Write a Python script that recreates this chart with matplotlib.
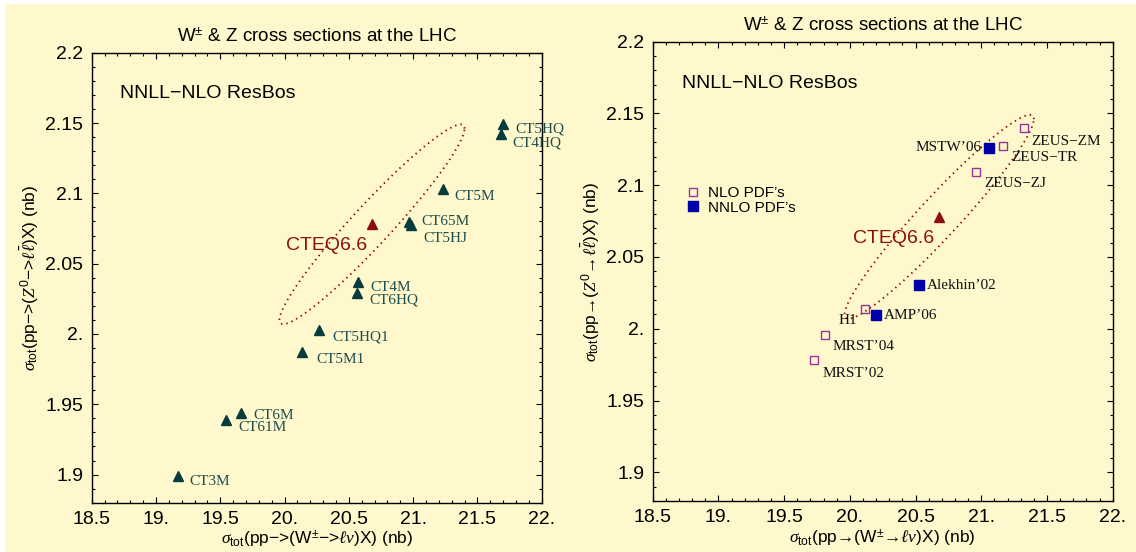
import numpy as np
import matplotlib
matplotlib.use("Agg")
import matplotlib.pyplot as plt
from matplotlib.patches import Rectangle
from matplotlib.ticker import FixedLocator, MultipleLocator

plt.rcParams['font.family'] = ['Liberation Sans', 'DejaVu Sans']
plt.rcParams['mathtext.fontset'] = 'custom'
plt.rcParams['mathtext.rm'] = 'Liberation Sans'
plt.rcParams['mathtext.it'] = 'Liberation Serif:italic'
plt.rcParams['mathtext.bf'] = 'Liberation Sans:bold'
plt.rcParams['mathtext.sf'] = 'Liberation Sans'
plt.rcParams['mathtext.fallback'] = 'stix'

# --- data (W and Z total cross sections, nb) ---
ct_names = ['CT5HQ', 'CT4HQ', 'CT5M', 'CT65M', 'CT5HJ', 'CT4M', 'CT6HQ',
            'CT5HQ1', 'CT5M1', 'CT6M', 'CT61M', 'CT3M']
ct_w = [21.70, 21.68, 21.23, 20.97, 20.985, 20.57, 20.56, 20.27, 20.135, 19.665, 19.545, 19.17]
ct_z = [2.1495, 2.1425, 2.103, 2.0795, 2.0775, 2.037, 2.029, 2.003, 1.9875, 1.9435, 1.9385, 1.899]

nlo_names = ['ZEUS\u2212ZM', 'ZEUS\u2212TR', 'ZEUS\u2212ZJ', 'H1', 'MRST\u201904', 'MRST\u201902']
nlo_w = [21.326, 21.168, 20.96, 20.118, 19.814, 19.728]
nlo_z = [2.1397, 2.1276, 2.1095, 2.014, 1.996, 1.978]

nnlo_names = ['MSTW\u201906', 'Alekhin\u201902', 'AMP\u201906']
nnlo_w = [21.059, 20.527, 20.197]
nnlo_z = [2.1262, 2.0302, 2.0093]

cteq66_w = 20.68
cteq66_z = 2.078
# uncertainty ellipse: half-widths in W and Z, correlation
ell_dw = 0.72
ell_dz = 0.071
ell_rho = 0.958

xticks = [18.5, 19.0, 19.5, 20.0, 20.5, 21.0, 21.5, 22.0]
xticklabels = ['18.5', '19.', '19.5', '20.', '20.5', '21.', '21.5', '22.']
yticks = [1.9, 1.95, 2.0, 2.05, 2.1, 2.15, 2.2]
yticklabels = ['1.9', '1.95', '2.', '2.05', '2.1', '2.15', '2.2']

# --- label offsets in pixels (dx, dy, ha) ---
ct_off = {'CT5HQ': (12, -5, 'left'), 'CT4HQ': (12, -9, 'left'), 'CT5M': (12, -7, 'left'),
          'CT65M': (12, 1, 'left'), 'CT5HJ': (12, -14, 'left'), 'CT4M': (13, -6, 'left'),
          'CT6HQ': (13, -7, 'left'), 'CT5HQ1': (13, -7, 'left'), 'CT5M1': (14, -8, 'left'),
          'CT6M': (12, -2, 'left'), 'CT61M': (12, -7, 'left'), 'CT3M': (12, -6, 'left')}
pdf_off = {'ZEUS\u2212ZM': (7, -13, 'left'), 'ZEUS\u2212TR': (8, -12, 'left'),
           'ZEUS\u2212ZJ': (8, -12, 'left'), 'H1': (-8, -12, 'right'),
           'MRST\u201904': (7, -12, 'left'), 'MRST\u201902': (8, -13, 'left'),
           'MSTW\u201906': (-7, 0, 'right'), 'Alekhin\u201902': (8, 0, 'left'),
           'AMP\u201906': (8, 0, 'left')}

bg = '#fef8cc'
teal = '#083c3c'
teal_txt = '#1d4d4d'
dred = '#8b0f0f'
purple = '#993399'
blue = '#0000aa'

W, H = 1136, 552
fig = plt.figure(figsize=(W / 100, H / 100), dpi=100, facecolor='white')
fig.patches.append(Rectangle((5 / W, 0), 1 - 5 / W, 1 - 4 / H, transform=fig.transFigure,
                             facecolor=bg, edgecolor='none', zorder=-1))

ax1 = fig.add_axes([91.7 / W, (H - 502.7) / H, 450 / W, 450 / H])
ax2 = fig.add_axes([652.7 / W, (H - 501) / H, 460 / W, 459.3 / H])

t = np.linspace(0, 2 * np.pi, 400)
delta = np.arccos(ell_rho)
ell_x = cteq66_w + ell_dw * np.cos(t)
ell_y = cteq66_z + ell_dz * np.cos(t - delta)

for ax in (ax1, ax2):
    ax.set_facecolor(bg)
    ax.set_xlim(18.5, 22.0)
    ax.set_ylim(1.88, 2.2)
    ax.xaxis.set_major_locator(FixedLocator(xticks))
    ax.set_xticklabels(xticklabels)
    ax.yaxis.set_major_locator(FixedLocator(yticks))
    ax.set_yticklabels(yticklabels)
    ax.xaxis.set_minor_locator(MultipleLocator(0.1))
    ax.yaxis.set_minor_locator(MultipleLocator(0.01))
    ax.tick_params(which='both', direction='in', top=True, right=True, labelsize=14, width=0.8)
    ax.tick_params(which='major', length=4.5, pad=6)
    ax.tick_params(which='minor', length=2.2)
    for s in ax.spines.values():
        s.set_linewidth(1.0)
    ax.set_title('W$^{\\pm}$ & Z cross sections at the LHC', fontsize=13.5, pad=8)
    ax.text(18.72, 2.171, 'NNLL\u2212NLO ResBos', fontsize=14, va='center', ha='left')
    ax.plot(ell_x, ell_y, color='#990000', lw=1.3, ls=(0, (0.8, 2.2)))
    ax.plot([cteq66_w], [cteq66_z], marker='^', ms=7, color=dred, ls='none')
    ax.text(cteq66_w - 0.04, cteq66_z - 0.0148, 'CTEQ6.6', fontsize=14, color=dred,
            ha='right', va='center')

# left panel: CTEQ sets
ax1.plot(ct_w, ct_z, marker='^', ms=7, color=teal, ls='none')
for n, x, y in zip(ct_names, ct_w, ct_z):
    dx, dy, ha = ct_off[n]
    ax1.annotate(n, (x, y), xytext=(dx, dy), textcoords='offset pixels', ha=ha, va='center',
                 fontsize=11, color=teal_txt, family='Liberation Serif')
ax1.set_xlabel(r'$\sigma_{\rm tot}$(pp−>(W$^{\pm}$−>$\ell\nu$)X) (nb)', fontsize=12.5)
ax1.set_ylabel(r'$\sigma_{\rm tot}$(pp−>($Z^0$−>$\ell\bar{\ell}$)X) (nb)', fontsize=12.5)
ax1.xaxis.set_label_coords(0.5, -0.057)
ax1.yaxis.set_label_coords(-0.112, 0.5)

# right panel: other PDF sets
ax2.plot(nlo_w, nlo_z, marker='s', ms=6.3, mfc='none', mec=purple, mew=1.0, ls='none',
         label='NLO PDF\u2019s')
ax2.plot(nnlo_w, nnlo_z, marker='s', ms=7, color=blue, ls='none', label='NNLO PDF\u2019s')
for n, x, y in zip(nlo_names + nnlo_names, nlo_w + nnlo_w, nlo_z + nnlo_z):
    dx, dy, ha = pdf_off[n]
    ax2.annotate(n, (x, y), xytext=(dx, dy), textcoords='offset pixels', ha=ha, va='center',
                 fontsize=11, color='#111111', family='Liberation Serif')
ax2.legend(loc='upper left', bbox_to_anchor=(0.07, 0.686), frameon=False, fontsize=11,
           handlelength=1.0, handletextpad=0.5, labelspacing=0.05, borderpad=0,
           borderaxespad=0)
ax2.set_xlabel(r'$\sigma_{\rm tot}$(pp→(W$^{\pm}$→$\ell\nu$)X) (nb)', fontsize=12.5)
ax2.set_ylabel(r'$\sigma_{\rm tot}$(pp→($Z^0$→$\ell\bar{\ell}$)X) (nb)', fontsize=12.5)
ax2.xaxis.set_label_coords(0.5, -0.058)
ax2.yaxis.set_label_coords(-0.111, 0.5)

fig.savefig('out.png', dpi=100, facecolor=fig.get_facecolor())
